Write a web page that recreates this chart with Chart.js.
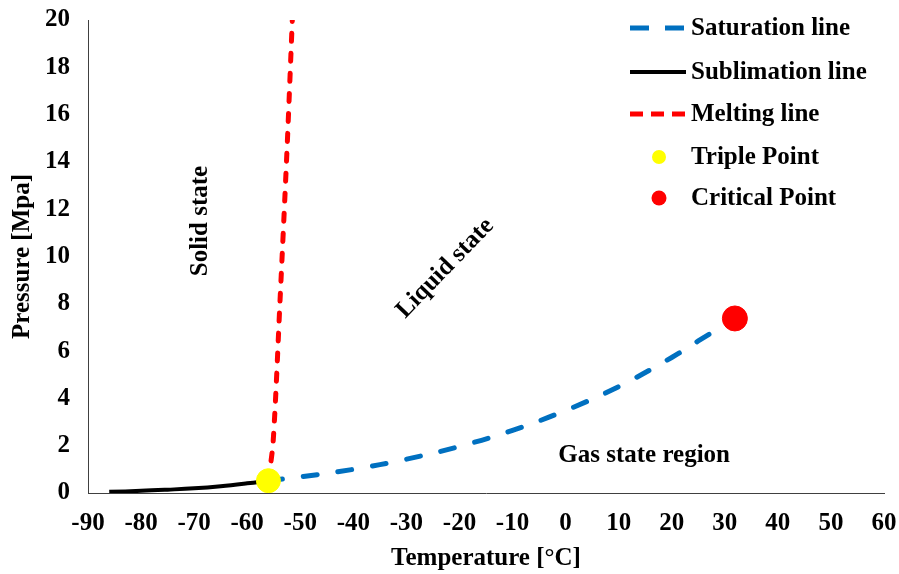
<!DOCTYPE html>
<html>
<head>
<meta charset="utf-8">
<script src="https://cdn.jsdelivr.net/npm/chart.js@4.4.1/dist/chart.umd.min.js"></script>
<style>
  html, body { margin: 0; padding: 0; background: #ffffff; }
  #wrap { width: 899px; height: 574px; }
</style>
</head>
<body>
<div id="wrap"><canvas id="c" width="899" height="574"></canvas></div>
<script>
// CO2 phase diagram: temperature in °C, pressure in MPa
const xTicks = [-90, -80, -70, -60, -50, -40, -30, -20, -10, 0, 10, 20, 30, 40, 50, 60];
const yTicks = [0, 2, 4, 6, 8, 10, 12, 14, 16, 18, 20];

const seriesNames = ['Saturation line', 'Sublimation line', 'Melting line', 'Triple Point', 'Critical Point'];

const saturationT = [-56, -50, -40, -30, -20, -10, 0, 10, 20, 25, 31.9];
const saturationP = [0.52, 0.68, 1.0, 1.43, 1.97, 2.65, 3.49, 4.5, 5.73, 6.43, 7.38];

const sublimationT = [-86, -80, -75, -70, -65, -60, -56];
const sublimationP = [0.05, 0.09, 0.14, 0.2, 0.29, 0.41, 0.52];

const meltingT = [-56, -55.1, -53.8, -52.5, -51.5];
const meltingP = [0.52, 2.2, 8.2, 14.5, 20];

const tripleT = [-56];
const tripleP = [0.52];

const criticalT = [31.9];
const criticalP = [7.38];

const regionNames = ['Solid state', 'Liquid state', 'Gas state region'];
const regionT = [-68.7, -22.7, 14.8];
const regionP = [11.5, 9.5, 1.6];

const FONT = '"Liberation Serif", "Times New Roman", serif';
const FONT_SIZE = 25;

function pts(xs, ys) {
  return xs.map((x, i) => ({ x: x, y: ys[i] }));
}

const datasets = [
  {
    label: seriesNames[0], data: pts(saturationT, saturationP), showLine: true,
    borderColor: '#0070C0', borderWidth: 5, borderDash: [14, 21], borderCapStyle: 'round',
    pointRadius: 0, tension: 0.4, order: 2, legendDash: [19, 16]
  },
  {
    label: seriesNames[1], data: pts(sublimationT, sublimationP), showLine: true,
    borderColor: '#000000', borderWidth: 4, pointRadius: 0, tension: 0.4, order: 2
  },
  {
    label: seriesNames[2], data: pts(meltingT, meltingP), showLine: true,
    borderColor: '#FF0000', borderWidth: 5, borderDash: [8, 12], borderCapStyle: 'round',
    pointRadius: 0, tension: 0.3, order: 2, legendDash: [13, 8]
  },
  {
    label: seriesNames[3], data: pts(tripleT, tripleP), showLine: false,
    backgroundColor: '#FFFF00', borderColor: '#FFFF00', pointRadius: 12, pointHoverRadius: 12,
    order: 0, legendRadius: 7
  },
  {
    label: seriesNames[4], data: pts(criticalT, criticalP), showLine: false,
    backgroundColor: '#FF0000', borderColor: '#FF0000', pointRadius: 12.5, pointHoverRadius: 12.5,
    order: 0, legendRadius: 7.5
  }
];

// Legend drawn inside the plot area, top right
const legendPlugin = {
  id: 'insideLegend',
  afterDraw(chart) {
    const ctx = chart.ctx;
    const x0 = 630, x1 = 686, textX = 691;
    const rows = [28, 72, 114, 157, 198];
    ctx.save();
    ctx.font = 'bold ' + FONT_SIZE + 'px ' + FONT;
    ctx.textBaseline = 'middle';
    ctx.textAlign = 'left';
    chart.data.datasets.forEach((ds, i) => {
      const y = rows[i];
      if (ds.showLine) {
        ctx.beginPath();
        ctx.strokeStyle = ds.borderColor;
        ctx.lineWidth = ds.borderWidth;
        ctx.lineCap = 'butt';
        ctx.setLineDash(ds.legendDash || []);
        ctx.moveTo(x0, y);
        ctx.lineTo(x1, y);
        ctx.stroke();
        ctx.setLineDash([]);
      } else {
        ctx.beginPath();
        ctx.fillStyle = ds.backgroundColor;
        ctx.arc(659, y, ds.legendRadius, 0, Math.PI * 2);
        ctx.fill();
      }
      ctx.fillStyle = '#000000';
      ctx.fillText(ds.label, textX, y + 1);
    });
    ctx.restore();
  }
};

// Region names placed at data coordinates
const regionPlugin = {
  id: 'regionLabels',
  afterDatasetsDraw(chart) {
    const ctx = chart.ctx;
    const xs = chart.scales.x, ys = chart.scales.y;
    const angles = [-Math.PI / 2, -46 * Math.PI / 180, 0];
    ctx.save();
    ctx.font = 'bold ' + FONT_SIZE + 'px ' + FONT;
    ctx.fillStyle = '#000000';
    ctx.textAlign = 'center';
    ctx.textBaseline = 'middle';
    regionNames.forEach((name, i) => {
      ctx.save();
      ctx.translate(xs.getPixelForValue(regionT[i]), ys.getPixelForValue(regionP[i]));
      ctx.rotate(angles[i]);
      ctx.fillText(name, 0, 0);
      ctx.restore();
    });
    ctx.restore();
  }
};

const axisFont = { family: FONT, size: FONT_SIZE, weight: 'bold' };

new Chart(document.getElementById('c'), {
  type: 'scatter',
  data: { datasets: datasets },
  plugins: [regionPlugin, legendPlugin],
  options: {
    responsive: false,
    animation: false,
    events: [],
    layout: { padding: { left: 0, right: 15, top: 20, bottom: 0 } },
    plugins: { legend: { display: false }, tooltip: { enabled: false } },
    scales: {
      x: {
        type: 'linear', min: xTicks[0], max: xTicks[xTicks.length - 1],
        afterBuildTicks(scale) { scale.ticks = xTicks.map(v => ({ value: v })); },
        afterFit(scale) {
          scale.height = 81;
          scale.paddingLeft = 0; scale.paddingRight = 0;
          scale.paddingTop = 0; scale.paddingBottom = 0;
        },
        grid: { display: false, drawOnChartArea: false, drawTicks: true, tickLength: 6, tickColor: '#404040' },
        border: { display: true, color: '#404040', width: 1 },
        ticks: { color: '#000000', font: axisFont, padding: 10, maxRotation: 0 },
        title: { display: true, text: 'Temperature [°C]', color: '#000000',
                 font: axisFont, padding: { top: 0, bottom: 0 } }
      },
      y: {
        type: 'linear', min: yTicks[0], max: yTicks[yTicks.length - 1],
        afterBuildTicks(scale) { scale.ticks = yTicks.map(v => ({ value: v })); },
        afterFit(scale) {
          scale.width = 88;
          scale.paddingLeft = 0; scale.paddingRight = 0;
          scale.paddingTop = 0; scale.paddingBottom = 0;
        },
        grid: { display: false, drawOnChartArea: false, drawTicks: true, tickLength: 7, tickColor: '#404040' },
        border: { display: true, color: '#404040', width: 1 },
        ticks: { color: '#000000', font: axisFont, padding: 11 },
        title: { display: true, text: 'Pressure [Mpa]', color: '#000000',
                 font: axisFont, padding: { top: 8, bottom: 0 } }
      }
    }
  }
});
</script>
</body>
</html>
